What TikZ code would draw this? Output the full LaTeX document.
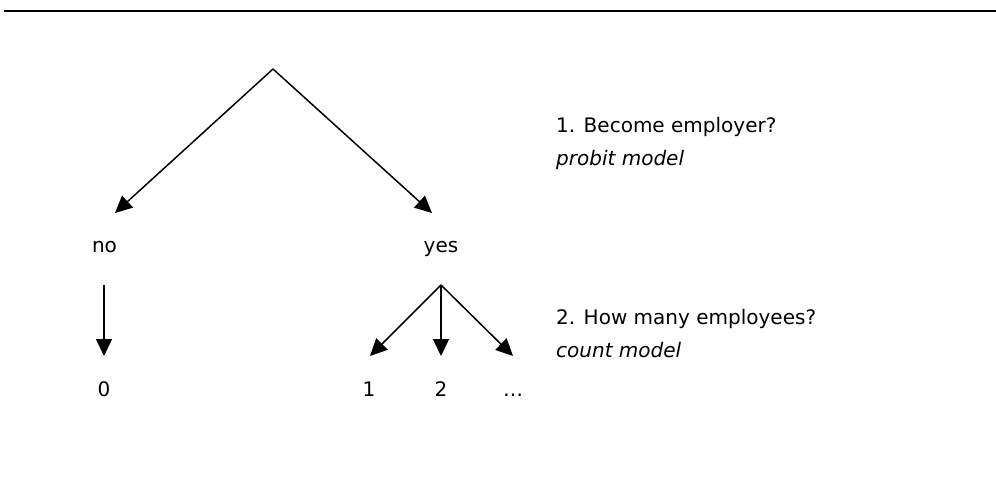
\documentclass[tikz,border=0pt]{standalone}
\usepackage{fontspec}
\setmainfont{DejaVu Sans}
\usetikzlibrary{arrows.meta}
\tikzset{
  lbl/.style={inner sep=0pt, anchor=base, font=\fontsize{20}{24}\selectfont},
  note/.style={inner sep=0pt, anchor=base west, font=\fontsize{20}{24}\selectfont},
  branch/.style={line width=1.5pt, -{Triangle[length=17pt, width=16pt]}},
}
\begin{document}
\begin{tikzpicture}[x=1pt, y=-1pt]
  \useasboundingbox (0,0) rectangle (996,482);
  % top rule
  \coordinate (ruleL) at (4,11);
  \coordinate (ruleR) at (996,11);
  \draw[line width=1.3pt] (ruleL) -- (ruleR);

  % first decision
  \coordinate (root) at (273,69);
  \coordinate (noTip) at (115,213);
  \coordinate (yesTip) at (432,213);
  \draw[branch] (root) -- (noTip);
  \draw[branch] (root) -- (yesTip);
  \node[lbl] (no) at (104.5,252) {no};
  \node[lbl] (yes) at (441,252) {yes};

  % second stage
  \coordinate (noStart) at (104,285);
  \coordinate (zeroTip) at (104,356);
  \draw[branch] (noStart) -- (zeroTip);
  \node[lbl] (zero) at (104,396) {0};

  \coordinate (fork) at (441,285);
  \coordinate (oneTip) at (370,356);
  \coordinate (twoTip) at (441,356);
  \coordinate (moreTip) at (513,356);
  \draw[branch] (fork) -- (oneTip);
  \draw[branch] (fork) -- (twoTip);
  \draw[branch] (fork) -- (moreTip);
  \node[lbl] (one) at (369,396) {1};
  \node[lbl] (two) at (441,396) {2};
  \node[lbl] (more) at (513,396) {…};

  % stage descriptions
  \node[note] (q1) at (556,132) {1. Become employer?};
  \node[note] (m1) at (556,165) {\itshape probit model};
  \node[note] (q2) at (556,324) {2. How many employees?};
  \node[note] (m2) at (556,357) {\itshape count model};
\end{tikzpicture}
\end{document}
